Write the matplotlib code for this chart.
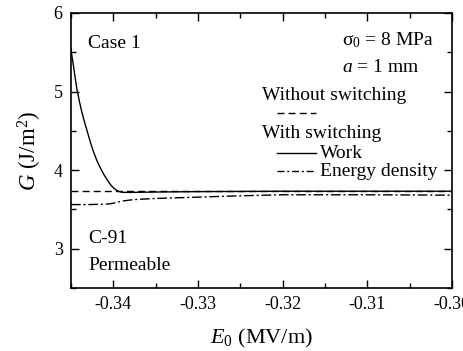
import matplotlib
matplotlib.use("Agg")
import matplotlib.pyplot as plt
from matplotlib.ticker import MultipleLocator, FormatStrFormatter
from matplotlib.lines import Line2D

plt.rcParams['font.family'] = ['Liberation Serif', 'DejaVu Serif']
plt.rcParams['mathtext.fontset'] = 'custom'
plt.rcParams['mathtext.rm'] = 'Liberation Serif'
plt.rcParams['mathtext.it'] = 'Liberation Serif:italic'
plt.rcParams['mathtext.bf'] = 'Liberation Serif:bold'
plt.rcParams['axes.unicode_minus'] = False

# Without switching (constant)
e_nosw = [-0.345, -0.30]
g_nosw = [3.735, 3.735]

# With switching: work
e_work = [-0.3451, -0.3449, -0.3447, -0.3445, -0.3443, -0.3440, -0.3437, -0.3434,
          -0.3431, -0.3427, -0.3423, -0.3419, -0.3415, -0.3411, -0.3407, -0.3403,
          -0.3400, -0.3397, -0.3394, -0.3391, -0.3388, -0.3384, -0.3380,
          -0.335, -0.33, -0.32, -0.31, -0.30]
g_work = [5.60, 5.46, 5.32, 5.17, 5.03, 4.87, 4.73, 4.61,
          4.50, 4.35, 4.22, 4.11, 4.02, 3.94, 3.87, 3.81,
          3.775, 3.748, 3.730, 3.720, 3.716, 3.715, 3.715,
          3.72, 3.725, 3.73, 3.73, 3.73]

# With switching: energy density
e_energy = [-0.345, -0.3430, -0.3410, -0.3404, -0.3399, -0.3394, -0.3388, -0.3381,
            -0.3375, -0.335, -0.33, -0.325, -0.32, -0.31, -0.30]
g_energy = [3.56, 3.56, 3.565, 3.570, 3.580, 3.594, 3.607, 3.617,
            3.624, 3.638, 3.655, 3.672, 3.685, 3.685, 3.68]

fig = plt.figure(figsize=(4.64, 3.51), dpi=100)
ax = fig.add_axes([0.153, 0.180, 0.821, 0.783])

lw = 1.0
ax.plot(e_nosw, g_nosw, color='black', lw=lw, dashes=(5, 3))
ax.plot(e_work, g_work, color='black', lw=lw)
ax.plot(e_energy, g_energy, color='black', lw=lw, dashes=(7, 2, 1.5, 2))

ax.set_xlim(-0.345, -0.30)
ax.set_ylim(2.5, 6.0)
ax.xaxis.set_major_locator(MultipleLocator(0.01))
ax.xaxis.set_minor_locator(MultipleLocator(0.005))
ax.xaxis.set_major_formatter(FormatStrFormatter('%.2f'))
ax.yaxis.set_major_locator(MultipleLocator(1))
ax.yaxis.set_minor_locator(MultipleLocator(0.5))
ax.yaxis.set_major_formatter(FormatStrFormatter('%d'))

ax.tick_params(which='both', direction='in', top=True, right=True,
               labelsize=13, width=1.0, pad=6)
ax.tick_params(which='major', length=6)
ax.tick_params(which='minor', length=3.5)
for s in ax.spines.values():
    s.set_linewidth(1.2)

ax.set_xlabel(r'$E_0$ (MV/m)', fontsize=16, labelpad=10)
ax.set_ylabel(r'$G$ (J/m$^2$)', fontsize=16.5, labelpad=7)

def fx(px):
    return (px - 71.0) / (452.0 - 71.0)

def fy(py):
    return (287.7 - py) / (287.7 - 13.0)

fs = 14
ax.text(fx(88), fy(43), 'Case 1', transform=ax.transAxes, fontsize=fs, va='center', ha='left')
ax.text(fx(88), fy(238), 'C-91', transform=ax.transAxes, fontsize=fs, va='center', ha='left')
ax.text(fx(88), fy(265), 'Permeable', transform=ax.transAxes, fontsize=fs, va='center', ha='left')
ax.text(fx(342), fy(40), 'σ$_0$ = 8 MPa', transform=ax.transAxes, fontsize=fs, va='center', ha='left')
ax.text(fx(342), fy(67), '$a$ = 1 mm', transform=ax.transAxes, fontsize=fs, va='center', ha='left')
ax.text(fx(262), fy(95), 'Without switching', transform=ax.transAxes, fontsize=fs, va='center', ha='left')
ax.text(fx(262), fy(133), 'With switching', transform=ax.transAxes, fontsize=fs, va='center', ha='left')
ax.text(fx(320), fy(153), 'Work', transform=ax.transAxes, fontsize=fs, va='center', ha='left')
ax.text(fx(320), fy(171), 'Energy density', transform=ax.transAxes, fontsize=fs, va='center', ha='left')

ax.add_line(Line2D([fx(277), fx(316)], [fy(113), fy(113)], transform=ax.transAxes,
                   color='black', lw=lw, dashes=(5, 3)))
ax.add_line(Line2D([fx(277), fx(316)], [fy(153), fy(153)], transform=ax.transAxes,
                   color='black', lw=lw))
ax.add_line(Line2D([fx(277), fx(316)], [fy(171), fy(171)], transform=ax.transAxes,
                   color='black', lw=lw, dashes=(5, 2, 1.5, 2)))

fig.savefig('out.png', dpi=100)
